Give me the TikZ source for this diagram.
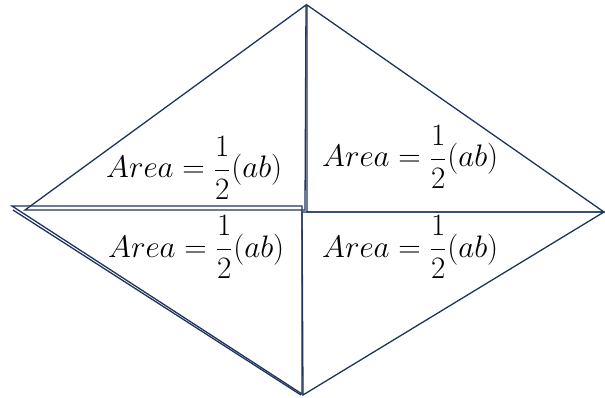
\documentclass[tikz,border=0pt]{standalone}
\usepackage{amsmath}
\usepackage{graphicx}
\definecolor{edge}{RGB}{30,52,92}
\newcommand{\halfab}{\scalebox{1.5}{\huge $Area=\dfrac{1}{2}(ab)$}}
\begin{document}
\begin{tikzpicture}[x=1pt, y=-1pt,
    tri/.style={draw=edge, line width=1.3pt},
    area/.style={anchor=base west, inner sep=0pt}]
            \useasboundingbox (0,0) rectangle (605,398);

            %corners
            \coordinate (TLleft) at (25,210);
            \coordinate (TLtop) at (306,5);
            \coordinate (TLfoot) at (305,210);
            \coordinate (TRtop) at (307,5);
            \coordinate (TRfoot) at (307,212);
            \coordinate (TRright) at (604,212);
            \coordinate (BLleft) at (12,206);
            \coordinate (BLleftb) at (13,210);
            \coordinate (BLfoot) at (302,206);
            \coordinate (BLbottom) at (302,394);
            \coordinate (BLbottomb) at (301,395);
            \coordinate (BRfoot) at (302,212);
            \coordinate (BRright) at (604,212);
            \coordinate (BRbottom) at (303,395);

            %triangles
            \draw[tri] (TLleft) -- (TLtop) -- (TLfoot) -- cycle;
            \draw[tri] (TRtop) -- (TRfoot) -- (TRright) -- cycle;
            \draw[tri] (BLleft) -- (BLfoot) -- (BLbottom) -- cycle;
            \draw[tri] (BLleftb) -- (BLbottomb);
            \draw[tri] (BRfoot) -- (BRright) -- (BRbottom) -- cycle;

            %labels
            \node[area] (TLarea) at (106,178) {\halfab};
            \node[area] (TRarea) at (322,167) {\halfab};
            \node[area] (BLarea) at (108,257) {\halfab};
            \node[area] (BRarea) at (322,257) {\halfab};

    \end{tikzpicture}
\end{document}
